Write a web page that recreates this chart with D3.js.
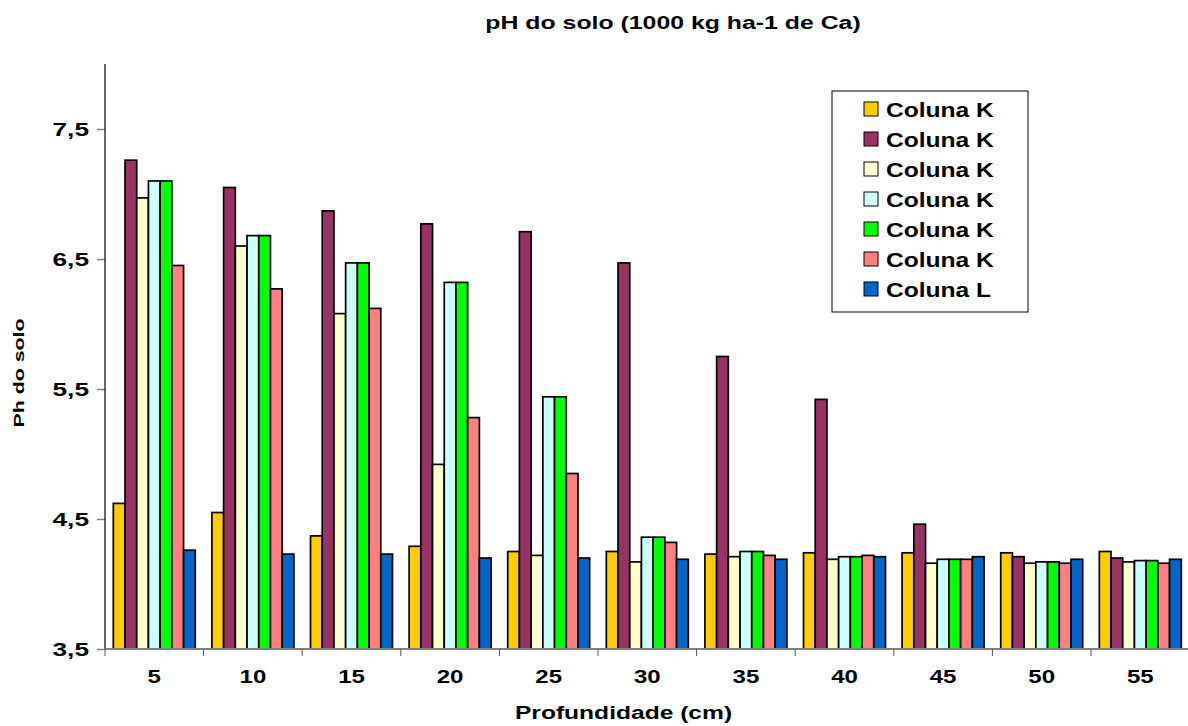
<!DOCTYPE html>
<html>
<head>
<meta charset="utf-8">
<script src="https://cdn.jsdelivr.net/npm/d3@7"></script>
<style>
  html, body { margin: 0; padding: 0; background: #fff; }
  svg { display: block; }
  text { font-family: "Liberation Sans", Arial, sans-serif; font-weight: bold; fill: #000; }
</style>
</head>
<body>
<svg id="chart" width="1188" height="726"></svg>
<script>
// Depths (cm)
const depths = ["5", "10", "15", "20", "25", "30", "35", "40", "45", "50", "55"];

// Soil pH by depth, one array per column
const colunaK1 = [4.62, 4.55, 4.37, 4.29, 4.25, 4.25, 4.23, 4.24, 4.24, 4.24, 4.25];
const colunaK2 = [7.26, 7.05, 6.87, 6.77, 6.71, 6.47, 5.75, 5.42, 4.46, 4.21, 4.20];
const colunaK3 = [6.97, 6.60, 6.08, 4.92, 4.22, 4.17, 4.21, 4.19, 4.16, 4.16, 4.17];
const colunaK4 = [7.10, 6.68, 6.47, 6.32, 5.44, 4.36, 4.25, 4.21, 4.19, 4.17, 4.18];
const colunaK5 = [7.10, 6.68, 6.47, 6.32, 5.44, 4.36, 4.25, 4.21, 4.19, 4.17, 4.18];
const colunaK6 = [6.45, 6.27, 6.12, 5.28, 4.85, 4.32, 4.22, 4.22, 4.19, 4.16, 4.16];
const colunaL  = [4.26, 4.23, 4.23, 4.20, 4.20, 4.19, 4.19, 4.21, 4.21, 4.19, 4.19];

const seriesNames = ["Coluna K", "Coluna K", "Coluna K", "Coluna K", "Coluna K", "Coluna K", "Coluna L"];
const seriesValues = [colunaK1, colunaK2, colunaK3, colunaK4, colunaK5, colunaK6, colunaL];
const seriesColors = ["#FFCC00", "#993366", "#FFFFCC", "#CCFFFF", "#00FF00", "#FF8080", "#0066CC"];

const yTicks = [3.5, 4.5, 5.5, 6.5, 7.5];

const svg = d3.select("#chart");

// Horizontally widened bold lettering
function label(g, x, y, str, size, anchor, stretch) {
  return g.append("text")
    .attr("transform", `translate(${x},${y}) scale(${stretch || 1.32},1)`)
    .attr("text-anchor", anchor || "middle")
    .style("font-size", size + "px")
    .text(str);
}

const left = 105, baseY = 649, topY = 64;
const catW = 98.6;

const x = d3.scaleBand()
  .domain(depths)
  .range([left, left + catW * depths.length])
  .padding(0);

const sub = d3.scaleBand()
  .domain(d3.range(seriesValues.length))
  .range([0, x.bandwidth()])
  .paddingInner(0)
  .paddingOuter(0.71);

const y = d3.scaleLinear().domain([3.5, 8.0]).range([baseY, topY]);

// Bars
const groups = svg.append("g").selectAll("g")
  .data(depths)
  .join("g")
  .attr("transform", d => `translate(${x(d)},0)`);

groups.selectAll("rect")
  .data((d, i) => seriesValues.map((s, k) => ({ k, v: s[i] })))
  .join("rect")
  .attr("x", d => sub(d.k))
  .attr("width", sub.bandwidth())
  .attr("y", d => y(d.v))
  .attr("height", d => y(3.5) - y(d.v))
  .attr("fill", d => seriesColors[d.k])
  .attr("stroke", "#000")
  .attr("stroke-width", 1.7);

// Y axis
const yAxis = svg.append("g")
  .attr("transform", `translate(${left},0)`)
  .call(d3.axisLeft(y).tickValues(yTicks).tickSize(8).tickFormat(() => ""));
yAxis.select(".domain").remove();
yAxis.selectAll(".tick line").attr("stroke", "#808080").attr("stroke-width", 1.5);
svg.append("line")
  .attr("x1", left).attr("x2", left)
  .attr("y1", topY).attr("y2", baseY)
  .attr("stroke", "#000").attr("stroke-width", 1.2);
yTicks.forEach(t => {
  label(svg, 89, y(t) + 7, d3.format(".1f")(t).replace(".", ","), 18.5, "end", 1.42);
});

// X axis
svg.append("line")
  .attr("x1", left).attr("x2", 1188)
  .attr("y1", baseY).attr("y2", baseY)
  .attr("stroke", "#808080").attr("stroke-width", 2);
const boundaries = depths.map(d => x(d)).concat([x(depths[depths.length - 1]) + x.bandwidth()]);
svg.append("g").selectAll("line")
  .data(boundaries)
  .join("line")
  .attr("x1", d => d).attr("x2", d => d)
  .attr("y1", baseY).attr("y2", baseY + 7)
  .attr("stroke", "#555").attr("stroke-width", 1);
depths.forEach(d => {
  label(svg, x(d) + x.bandwidth() / 2, 683, d, 18.5, "middle", 1.3);
});

// Titles
label(svg, 673, 29, "pH do solo (1000 kg ha-1 de Ca)", 18, "middle", 1.38);
label(svg, 623.5, 719, "Profundidade (cm)", 18.5, "middle", 1.33);
svg.append("text")
  .attr("transform", "translate(24,373) rotate(-90)")
  .attr("text-anchor", "middle")
  .style("font-size", "15px")
  .attr("textLength", 109)
  .attr("lengthAdjust", "spacingAndGlyphs")
  .text("Ph do solo");

// Legend
const legend = svg.append("g");
legend.append("rect")
  .attr("x", 832).attr("y", 91)
  .attr("width", 196).attr("height", 221)
  .attr("fill", "#fff").attr("stroke", "#000").attr("stroke-width", 1);
seriesNames.forEach((name, k) => {
  const cy = 109 + k * 30;
  legend.append("rect")
    .attr("x", 864).attr("y", cy - 7)
    .attr("width", 14).attr("height", 14)
    .attr("fill", seriesColors[k])
    .attr("stroke", "#000").attr("stroke-width", 1);
  label(legend, 886, cy + 7.5, name, 20.5, "start", 1.2);
});
</script>
</body>
</html>
